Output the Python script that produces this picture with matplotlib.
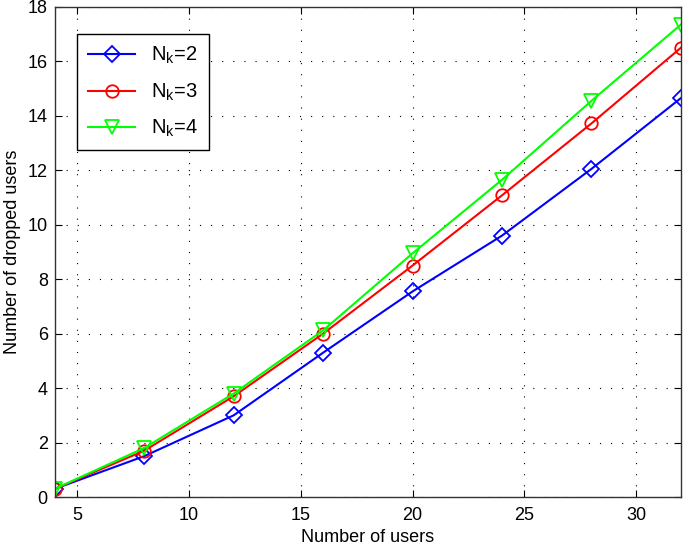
import matplotlib
matplotlib.use("Agg")
import matplotlib.pyplot as plt

users = [4, 8, 12, 16, 20, 24, 28, 32]
nk2 = [0.3, 1.5, 3.0, 5.3, 7.55, 9.6, 12.05, 14.65]
nk3 = [0.3, 1.7, 3.7, 6.0, 8.5, 11.08, 13.72, 16.5]
nk4 = [0.3, 1.8, 3.8, 6.12, 8.95, 11.65, 14.55, 17.35]
labels = [r"N$_\mathregular{k}$=2", r"N$_\mathregular{k}$=3", r"N$_\mathregular{k}$=4"]
xticks = [5, 10, 15, 20, 25, 30]
yticks = [0, 2, 4, 6, 8, 10, 12, 14, 16, 18]

plt.rcParams['font.family'] = ['Liberation Sans', 'DejaVu Sans']
plt.rcParams['mathtext.fontset'] = 'custom'
plt.rcParams['mathtext.rm'] = 'Liberation Sans'
plt.rcParams['mathtext.it'] = 'Liberation Sans'

fig = plt.figure(figsize=(6.85, 5.47), dpi=100)
ax = fig.add_axes([0.080, 0.0914, 0.914, 0.896])

ax.plot(users, nk2, color='#0000ff', marker='D', markersize=8, markerfacecolor='none',
        markeredgewidth=1.3, linewidth=1.5, label=labels[0])
ax.plot(users, nk3, color='#ff0000', marker='o', markersize=9, markerfacecolor='none',
        markeredgewidth=1.3, linewidth=1.5, label=labels[1])
ax.plot(users, nk4, color='#00ff00', marker='v', markersize=10, markerfacecolor='none',
        markeredgewidth=1.3, linewidth=1.5, label=labels[2])

ax.set_xlim(4, 32)
ax.set_ylim(0, 18)
ax.set_xticks(xticks)
ax.set_yticks(yticks)
ax.tick_params(direction='in', top=True, right=True, labelsize=13, length=5)
ax.tick_params(axis='x', pad=7)
ax.tick_params(axis='y', pad=5)
ax.grid(True, linestyle=(0, (1, 9)), color='black', linewidth=0.8)
for s in ax.spines.values():
    s.set_linewidth(1.0)
    s.set_color('#333333')
ax.set_xlabel("Number of users", fontsize=13, labelpad=4)
ax.set_ylabel("Number of dropped users", fontsize=13, labelpad=5)

leg = ax.legend(loc='upper left', bbox_to_anchor=(0.02, 0.965), fontsize=14.5,
                fancybox=False, edgecolor='black', framealpha=1, handlelength=2.3,
                borderpad=0.55, labelspacing=0.75)
leg.get_frame().set_linewidth(1.0)

fig.savefig("out.png", dpi=100)
